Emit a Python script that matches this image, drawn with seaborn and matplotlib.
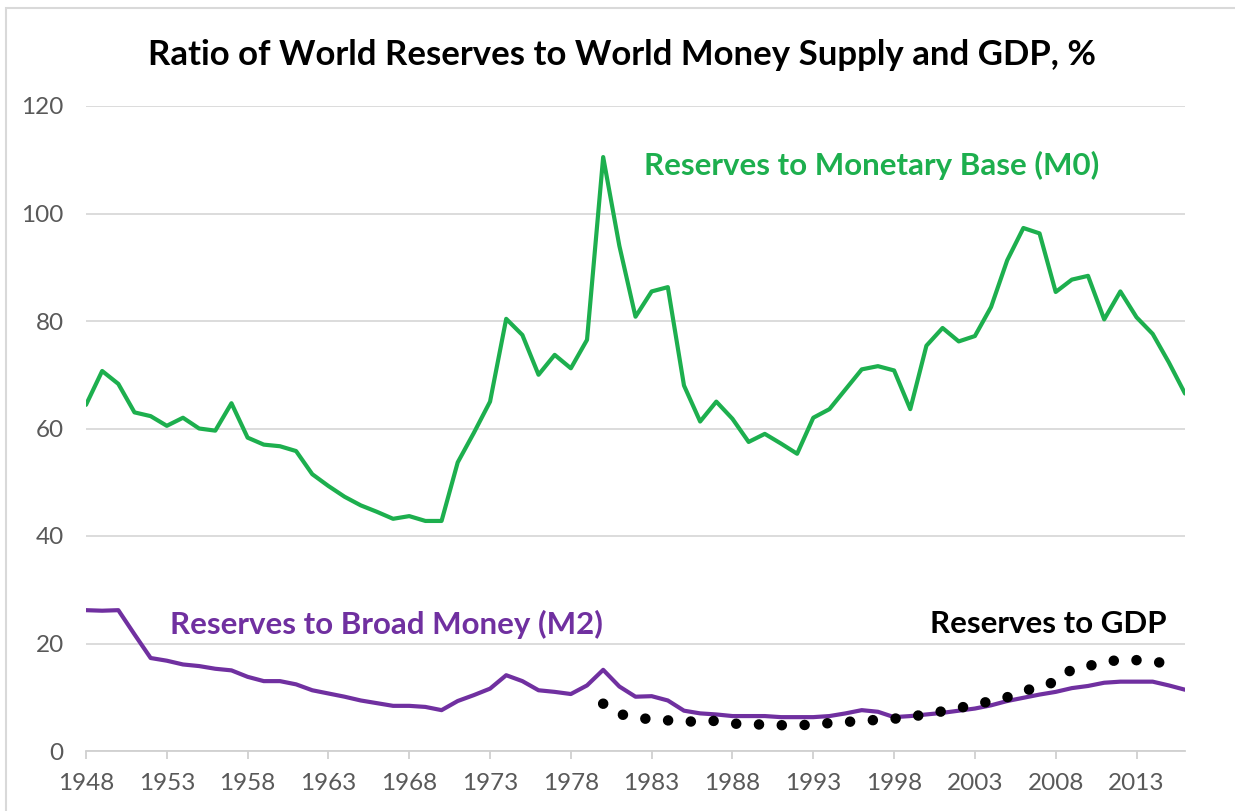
import numpy as np
import pandas as pd
import matplotlib
matplotlib.use("Agg")
import matplotlib.pyplot as plt
import seaborn as sns
from matplotlib.patches import Rectangle

# Data (%)
years_m0 = list(range(1948, 2017))
reserves_to_m0 = [
    64.4, 70.7, 68.3, 63.0, 62.3, 60.5, 62.0, 60.0, 59.6, 64.7,
    58.3, 57.0, 56.7, 55.8, 51.5, 49.3, 47.3, 45.7, 44.5, 43.2,
    43.7, 42.8, 42.8, 53.7, 59.2, 65.0, 80.4, 77.4, 70.0, 73.7,
    71.2, 76.5, 110.5, 94.0, 80.8, 85.5, 86.3, 68.0, 61.3, 65.0,
    61.8, 57.5, 59.0, 57.2, 55.3, 62.0, 63.6, 67.3, 71.0, 71.6,
    70.8, 63.6, 75.4, 78.7, 76.2, 77.2, 82.6, 91.3, 97.3, 96.3,
    85.4, 87.7, 88.4, 80.3, 85.5, 80.7, 77.6, 72.3, 66.5,
]

years_m2 = list(range(1948, 2017))
reserves_to_m2 = [
    26.2, 26.1, 26.2, 21.7, 17.3, 16.8, 16.1, 15.8, 15.3, 15.0,
    13.8, 13.0, 13.0, 12.4, 11.3, 10.7, 10.1, 9.4, 8.9, 8.4,
    8.4, 8.2, 7.6, 9.3, 10.4, 11.6, 14.1, 13.0, 11.3, 11.0,
    10.6, 12.2, 15.1, 12.0, 10.1, 10.2, 9.4, 7.5, 7.0, 6.8,
    6.5, 6.5, 6.5, 6.3, 6.3, 6.3, 6.5, 7.0, 7.6, 7.3,
    6.3, 6.5, 6.8, 7.1, 7.5, 7.9, 8.5, 9.3, 9.9, 10.5,
    11.0, 11.7, 12.1, 12.7, 12.9, 12.9, 12.9, 12.2, 11.4,
]

years_gdp = list(range(1980, 2016))
reserves_to_gdp = [
    8.8, 6.9, 6.2, 5.9, 5.7, 5.4, 5.6, 5.6, 5.1, 5.0,
    4.9, 4.8, 4.8, 4.9, 5.2, 5.4, 5.6, 5.8, 6.0, 6.4,
    6.8, 7.4, 8.0, 8.6, 9.3, 10.0, 11.0, 12.2, 12.8, 15.2,
    15.8, 16.5, 17.0, 16.9, 16.6, 16.3,
]

x_ticks = list(range(1948, 2014, 5))
y_ticks = [0, 20, 40, 60, 80, 100, 120]

green = "#1DAF4E"
purple = "#7030A0"
grey_text = "#595959"

sns.set_theme(style="white")
plt.rcParams["font.family"] = ["Lato", "DejaVu Sans"]

fig = plt.figure(figsize=(12.35, 8.11), dpi=100)
ax = fig.add_axes([86 / 1235, 1 - 751 / 811, (1185 - 86) / 1235, (751 - 106) / 811])

# outer chart frame
fig.patches.append(Rectangle((6 / 1235, -0.05), 1.1, 1 - 8 / 811 + 0.05,
                             transform=fig.transFigure, fill=False,
                             edgecolor="#D9D9D9", linewidth=1.5))

sns.lineplot(x=years_m0, y=reserves_to_m0, ax=ax, color=green, linewidth=3.0)
sns.lineplot(x=years_m2, y=reserves_to_m2, ax=ax, color=purple, linewidth=3.0)
sns.lineplot(x=years_gdp, y=reserves_to_gdp, ax=ax, color="black", linewidth=7.6,
             linestyle=(0, (0.001, 2.16)), dash_capstyle="round")

ax.set_xlim(1948, 2016)
ax.set_ylim(0, 120)
ax.set_xticks(x_ticks)
ax.set_yticks(y_ticks)
ax.yaxis.grid(True, color="#D9D9D9", linewidth=1.3)
ax.set_axisbelow(True)
for s in ["top", "right", "left"]:
    ax.spines[s].set_visible(False)
ax.spines["bottom"].set_color("#D0D0D0")
ax.spines["bottom"].set_linewidth(1.3)
ax.tick_params(axis="x", length=6, width=1.3, color="#D0D0D0", labelsize=17.5,
               labelcolor=grey_text, pad=10, bottom=True, direction="out")
ax.tick_params(axis="y", length=0, labelsize=17.5, labelcolor=grey_text, pad=16)

fig.text(622 / 1235, 1 - 55 / 811, "Ratio of World Reserves to World Money Supply and GDP, %",
         ha="center", va="center", fontsize=25, fontweight="bold", color="black")

ax.text(1982.5, 109, "Reserves to Monetary Base (M0)", color=green, fontsize=22.5,
        fontweight="bold", ha="left", va="center")
ax.text(1953.2, 23.6, "Reserves to Broad Money (M2)", color=purple, fontsize=22.5,
        fontweight="bold", ha="left", va="center")
ax.text(2000.2, 23.6, "Reserves to GDP", color="black", fontsize=22.5,
        fontweight="bold", ha="left", va="center")

fig.savefig("out.png", dpi=100)
